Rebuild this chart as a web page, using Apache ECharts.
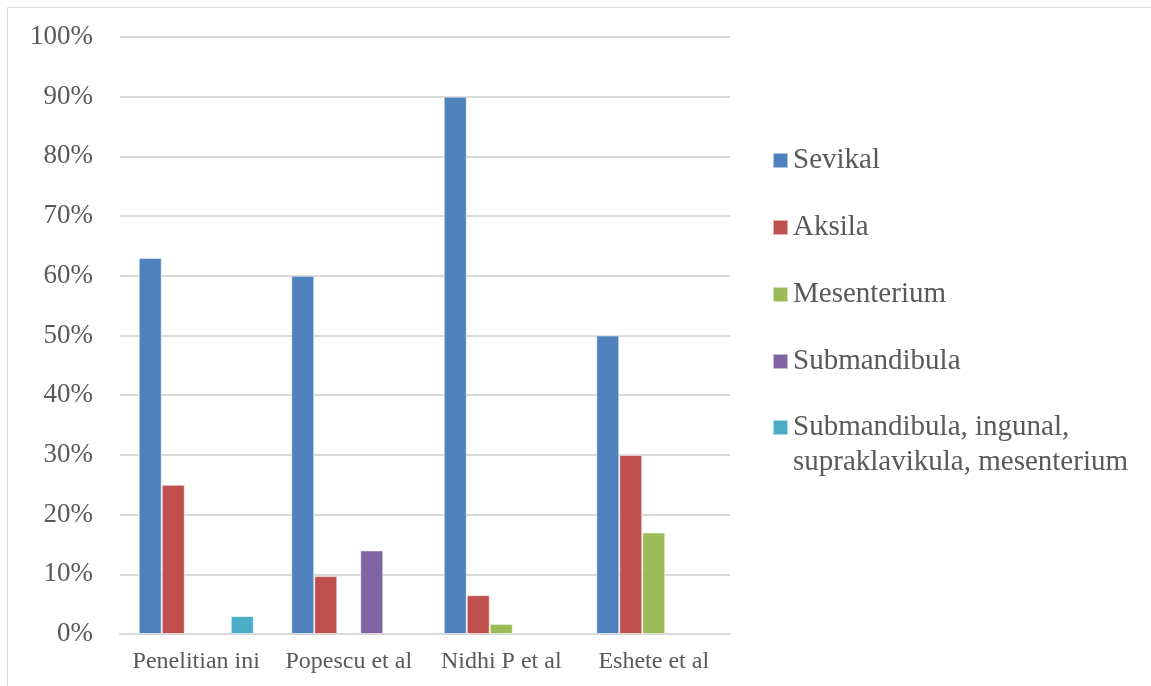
<!DOCTYPE html>
<html>
<head>
<meta charset="utf-8">
<script src="https://cdn.jsdelivr.net/npm/echarts@6/dist/echarts.min.js"></script>
<style>
    html, body { margin: 0; padding: 0; background: #fff; }
    #chart { width: 1151px; height: 686px; }
</style>
</head>
<body>
<div id="chart"></div>
<script>
//--------------------------------
// Data
//--------------------------------
const studies = ['Penelitian ini', 'Popescu et al', 'Nidhi P et al', 'Eshete et al'];
const sevikal = [63, 60, 90, 50];
const aksila = [25, 9.7, 6.5, 30];
const mesenterium = [null, null, 1.7, 17];
const submandibula = [null, 14, null, null];
const campuran = [3, null, null, null];
const yTicks = [0, 10, 20, 30, 40, 50, 60, 70, 80, 90, 100];

const seriesNames = ['Sevikal', 'Aksila', 'Mesenterium', 'Submandibula',
    'Submandibula, ingunal, supraklavikula, mesenterium'];
const colors = ['#4F81BD', '#C0504D', '#9BBB59', '#8064A2', '#4BACC6'];

//--------------------------------
// Chart
//--------------------------------
const FONT = '"Liberation Serif", "Times New Roman", serif';
const TEXT = '#595959';

const myChart = echarts.init(document.getElementById('chart'));

const makeBar = (name, data, color) => ({
    name: name,
    type: 'bar',
    barWidth: 23,
    barGap: '0%',
    itemStyle: {
        color: color,
        borderColor: 'rgba(255,255,255,0.55)',
        borderWidth: 1
    },
    data: data
});

const legendBase = {
    orient: 'vertical',
    left: 772,
    padding: 0,
    itemWidth: 15,
    itemHeight: 15,
    itemGap: 32,
    icon: 'rect',
    textStyle: {
        fontFamily: FONT,
        fontSize: 29,
        lineHeight: 35,
        color: TEXT
    }
};

let options = {
    animation: false,
    color: colors,
    graphic: [
        {
            type: 'rect',
            shape: { x: 7.5, y: 7.5, width: 1300, height: 800 },
            style: { fill: 'none', stroke: '#d9d9d9', lineWidth: 1 },
            silent: true
        }
    ],
    legend: [
        Object.assign({}, legendBase, {
            top: 143,
            data: seriesNames.slice(0, 4)
        }),
        Object.assign({}, legendBase, {
            // blank first line keeps the marker level with the first text line
            top: 375,
            data: seriesNames.slice(4),
            formatter: () => ' \nSubmandibula, ingunal,\nsupraklavikula, mesenterium'
        })
    ],
    grid: {
        left: 120,
        right: 421,
        top: 37,
        bottom: 52,
        containLabel: false
    },
    xAxis: {
        type: 'category',
        data: studies,
        axisLine: { show: true, lineStyle: { color: '#d9d9d9', width: 2 } },
        axisTick: { show: false },
        axisLabel: {
            interval: 0,
            fontFamily: FONT,
            fontSize: 24,
            color: TEXT,
            margin: 16
        }
    },
    yAxis: {
        type: 'value',
        min: yTicks[0],
        max: yTicks[yTicks.length - 1],
        interval: 10,
        axisLine: { show: false },
        axisTick: { show: false },
        splitLine: { lineStyle: { color: '#d9d9d9', width: 2 } },
        axisLabel: {
            fontFamily: FONT,
            fontSize: 27,
            color: TEXT,
            margin: 27,
            formatter: '{value}%'
        }
    },
    series: [
        makeBar(seriesNames[0], sevikal, colors[0]),
        makeBar(seriesNames[1], aksila, colors[1]),
        makeBar(seriesNames[2], mesenterium, colors[2]),
        makeBar(seriesNames[3], submandibula, colors[3]),
        makeBar(seriesNames[4], campuran, colors[4])
    ]
};

myChart.setOption(options);
</script>
</body>
</html>
